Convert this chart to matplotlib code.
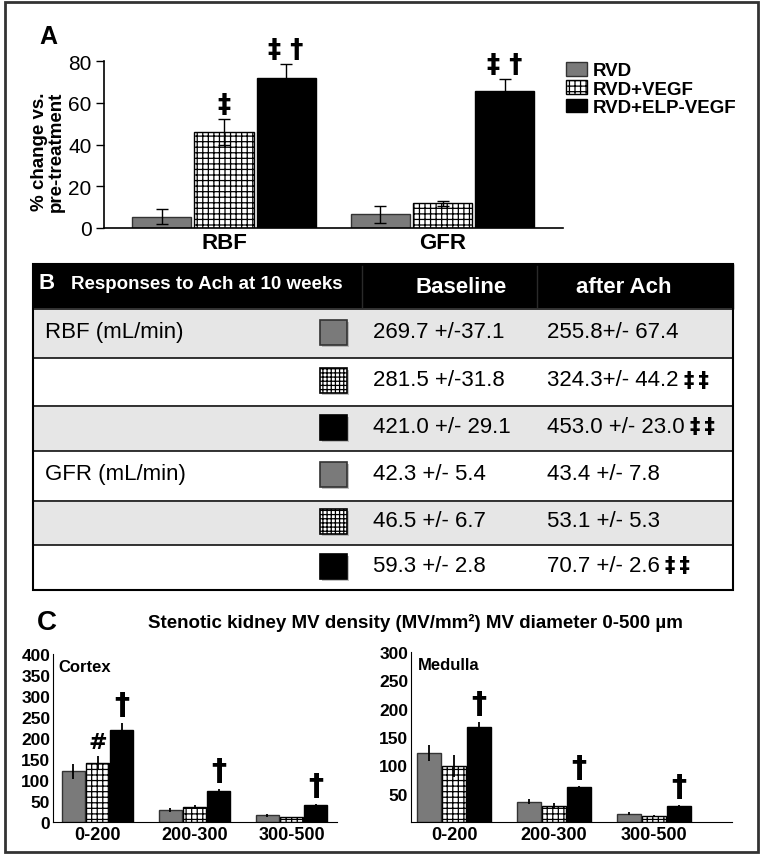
import matplotlib
matplotlib.use('Agg')
import matplotlib.pyplot as plt
from matplotlib.patches import Rectangle
import numpy as np

plt.rcParams['font.family'] = ['Liberation Sans', 'DejaVu Sans']
plt.rcParams['hatch.color'] = 'black'
plt.rcParams['hatch.linewidth'] = 0.9

# ---- data ----
groups = ['RVD', 'RVD+VEGF', 'RVD+ELP-VEGF']
colors = ['#7a7a7a', 'white', 'black']
hatches = ['', '+++', '']
edges = ['#333333', 'black', 'black']

# panel A: % change vs pre-treatment
a_cats = ['RBF', 'GFR']
a_vals = [[5.4, 6.5], [45.9, 11.8], [71.7, 65.7]]
a_errs = [[3.7, 4.0], [6.2, 1.2], [6.9, 5.5]]
a_marks = [['', ''], ['\u2021', ''], ['\u2021 \u2020', '\u2021 \u2020']]

# panel B: table
row_labels = ['RBF (mL/min)', '', '', 'GFR (mL/min)', '', '']
row_group = [0, 1, 2, 0, 1, 2]
baseline = ['269.7 +/-37.1', '281.5 +/-31.8', '421.0 +/- 29.1',
            '42.3 +/- 5.4', '46.5 +/- 6.7', '59.3 +/- 2.8']
after_ach = ['255.8+/- 67.4', '324.3+/- 44.2', '453.0 +/- 23.0',
             '43.4 +/- 7.8', '53.1 +/- 5.3', '70.7 +/- 2.6']
after_sig = ['', '\u2021\u2009\u2021', '\u2021\u2009\u2021', '', '', '\u2021\u2009\u2021']

# panel C: MV density
c_cats = ['0-200', '200-300', '300-500']
cortex_vals = [[121, 28, 16], [140, 35, 11], [220, 73, 40]]
cortex_errs = [[18, 5, 3], [16, 5, 2], [15, 5, 3]]
cortex_marks = [['', '', ''], ['#', '', ''], ['\u2020', '\u2020', '\u2020']]
medulla_vals = [[122, 36, 15], [99, 29, 11], [168, 61, 28]]
medulla_errs = [[14, 4, 2], [20, 4, 2], [8, 2, 2]]
medulla_marks = [['', '', ''], ['', '', ''], ['\u2020', '\u2020', '\u2020']]

W, H = 765, 862
fig = plt.figure(figsize=(W / 100, H / 100), dpi=100)
dag = ['DejaVu Sans']  # heavier dagger glyphs


def px_axes(l, t, r, b):
    return fig.add_axes([l / W, 1 - b / H, (r - l) / W, (b - t) / H])


# overlay in pixel coords for border, table and letters
ov = fig.add_axes([0, 0, 1, 1], zorder=-1)
ov.set_xlim(0, W)
ov.set_ylim(H, 0)
ov.axis('off')
ov.add_patch(Rectangle((5, 3), 753, 850, fill=False, ec='#333333', lw=2))

# ---------------- panel A ----------------
axA = px_axes(104, 62, 563, 229)
axA.patch.set_visible(False)
x = np.arange(len(a_cats))
pitch, bw = 0.284, 0.27
for i in range(3):
    xs = x + (i - 1) * pitch
    axA.bar(xs, a_vals[i], bw, color=colors[i], hatch=hatches[i],
            edgecolor=edges[i], linewidth=1, label=groups[i])
    axA.errorbar(xs, a_vals[i], yerr=a_errs[i], fmt='none', ecolor='black',
                 elinewidth=1, capsize=4, capthick=1)
    for j in range(len(a_cats)):
        if a_marks[i][j]:
            axA.annotate(a_marks[i][j], (xs[j], a_vals[i][j] + a_errs[i][j]),
                         xytext=(0, 1), textcoords='offset points',
                         ha='center', va='bottom', fontsize=19,
                         fontweight='bold', family=dag)
axA.set_xlim(-0.549, 1.551)
axA.set_ylim(0, 80)
axA.set_yticks([0, 20, 40, 60, 80])
axA.set_xticks(x)
axA.set_xticklabels(a_cats, fontsize=16, fontweight='bold')
axA.tick_params(axis='x', length=0, pad=3)
axA.tick_params(axis='y', length=6, width=1, labelsize=15, pad=3)
for s in ['top', 'right']:
    axA.spines[s].set_visible(False)
for s in ['left', 'bottom']:
    axA.spines[s].set_linewidth(1.2)
fig.text(48 / W, 1 - 152 / H, '% change vs.\npre-treatment', rotation=90,
         ha='center', va='center', fontsize=13.5, fontweight='bold',
         linespacing=0.95)
ov.text(48, 37, 'A', ha='center', va='center', fontsize=18, fontweight='bold')
axA.legend(loc='upper left', bbox_to_anchor=(566 / W, 1 - 63 / H),
           bbox_transform=fig.transFigure, frameon=False,
           prop={'weight': 'bold', 'size': 13.5}, handlelength=1.1,
           handleheight=0.75, handletextpad=0.3, labelspacing=0.05,
           borderpad=0, borderaxespad=0)

# ---------------- panel B (table) ----------------
tl, tr = 33, 733
head_top, head_bot = 265, 310
row_edges = [310, 359, 407, 452, 502, 546, 591]
ov.add_patch(Rectangle((tl, head_top), tr - tl, head_bot - head_top,
                       fc='black', ec='black', lw=1))
for xv in [362, 537]:
    ov.plot([xv, xv], [head_top + 2, head_bot - 2], color='#2a2a2a', lw=1)
ov.text(39, 284, 'B', color='white', fontsize=16, fontweight='bold',
        ha='left', va='center')
ov.text(71, 285, 'Responses to Ach at 10 weeks', color='white', fontsize=13.5,
        fontweight='bold', ha='left', va='center')
ov.text(461, 288, 'Baseline', color='white', fontsize=16, fontweight='bold',
        ha='center', va='center')
ov.text(624, 288, 'after Ach', color='white', fontsize=16, fontweight='bold',
        ha='center', va='center')
for k in range(len(baseline)):
    top, bot = row_edges[k], row_edges[k + 1]
    ov.add_patch(Rectangle((tl, top), tr - tl, bot - top,
                           fc='#e6e6e6' if k % 2 == 0 else 'white',
                           ec='#333333', lw=1.4))
    cy = (top + bot) / 2 - 2
    if row_labels[k]:
        ov.text(45, cy, row_labels[k], fontsize=16, ha='left', va='center')
    g = row_group[k]
    ov.add_patch(Rectangle((322, cy - 10), 27, 25, fc='#9a9a9a', ec='none',
                           alpha=0.6))
    ov.add_patch(Rectangle((320, cy - 12), 27, 25, fc=colors[g],
                           hatch='++++' if hatches[g] else '',
                           ec=edges[g], lw=1.2))
    ov.text(373, cy, baseline[k], fontsize=16, ha='left', va='center')
    t = ov.text(547, cy, after_ach[k], fontsize=16, ha='left', va='center')
    if after_sig[k]:
        ov.annotate(after_sig[k], xy=(1, 0.5), xycoords=t, xytext=(4, 0),
                    textcoords='offset points', ha='left', va='center',
                    fontsize=15, fontweight='bold', family=dag)
ov.add_patch(Rectangle((tl, head_top), tr - tl, row_edges[-1] - head_top,
                       fill=False, ec='black', lw=1.5))

# ---------------- panel C ----------------
ov.text(47, 623, 'C', ha='center', va='center', fontsize=20, fontweight='bold')
ov.text(415, 623, 'Stenotic kidney MV density (MV/mm\u00b2) MV diameter 0-500 \u00b5m',
        ha='center', va='center', fontsize=13.5, fontweight='bold')


def mv_panel(ax, vals, errs, marks, xlim, ylim, yticks, name):
    xc = np.arange(len(c_cats))
    for i in range(3):
        xs = xc + (i - 1) * 0.25
        ax.bar(xs, vals[i], 0.235, color=colors[i], hatch=hatches[i],
               edgecolor=edges[i], linewidth=1)
        ax.errorbar(xs, vals[i], yerr=errs[i], fmt='none', ecolor='black',
                    elinewidth=1.3, capsize=0)
        for j in range(len(c_cats)):
            if marks[i][j]:
                ax.annotate(marks[i][j], (xs[j], vals[i][j] + errs[i][j]),
                            xytext=(0, 3), textcoords='offset points',
                            ha='center', va='bottom',
                            fontsize=22 if marks[i][j] != '#' else 16,
                            fontweight='bold', family=dag)
    ax.set_xlim(*xlim)
    ax.set_ylim(*ylim)
    ax.set_yticks(yticks)
    ax.set_xticks(xc)
    ax.set_xticklabels(c_cats)
    ax.tick_params(axis='y', length=0, labelsize=12.5, pad=2)
    ax.tick_params(axis='x', length=0, labelsize=13, pad=3)
    for lab in ax.get_xticklabels() + ax.get_yticklabels():
        lab.set_fontweight('bold')
    for s in ['top', 'right']:
        ax.spines[s].set_visible(False)
    ax.patch.set_visible(False)
    ax.text(0.02, 0.97, name, transform=ax.transAxes, ha='left', va='top',
            fontsize=12, fontweight='bold')


axC1 = px_axes(53, 655, 337, 823)
mv_panel(axC1, cortex_vals, cortex_errs, cortex_marks, (-0.46, 2.47),
         (0, 400), [0, 50, 100, 150, 200, 250, 300, 350, 400], 'Cortex')
axC2 = px_axes(411, 653, 732, 823)
mv_panel(axC2, medulla_vals, medulla_errs, medulla_marks, (-0.43, 2.78),
         (0, 300), [50, 100, 150, 200, 250, 300], 'Medulla')

fig.savefig('out.png', dpi=100)
